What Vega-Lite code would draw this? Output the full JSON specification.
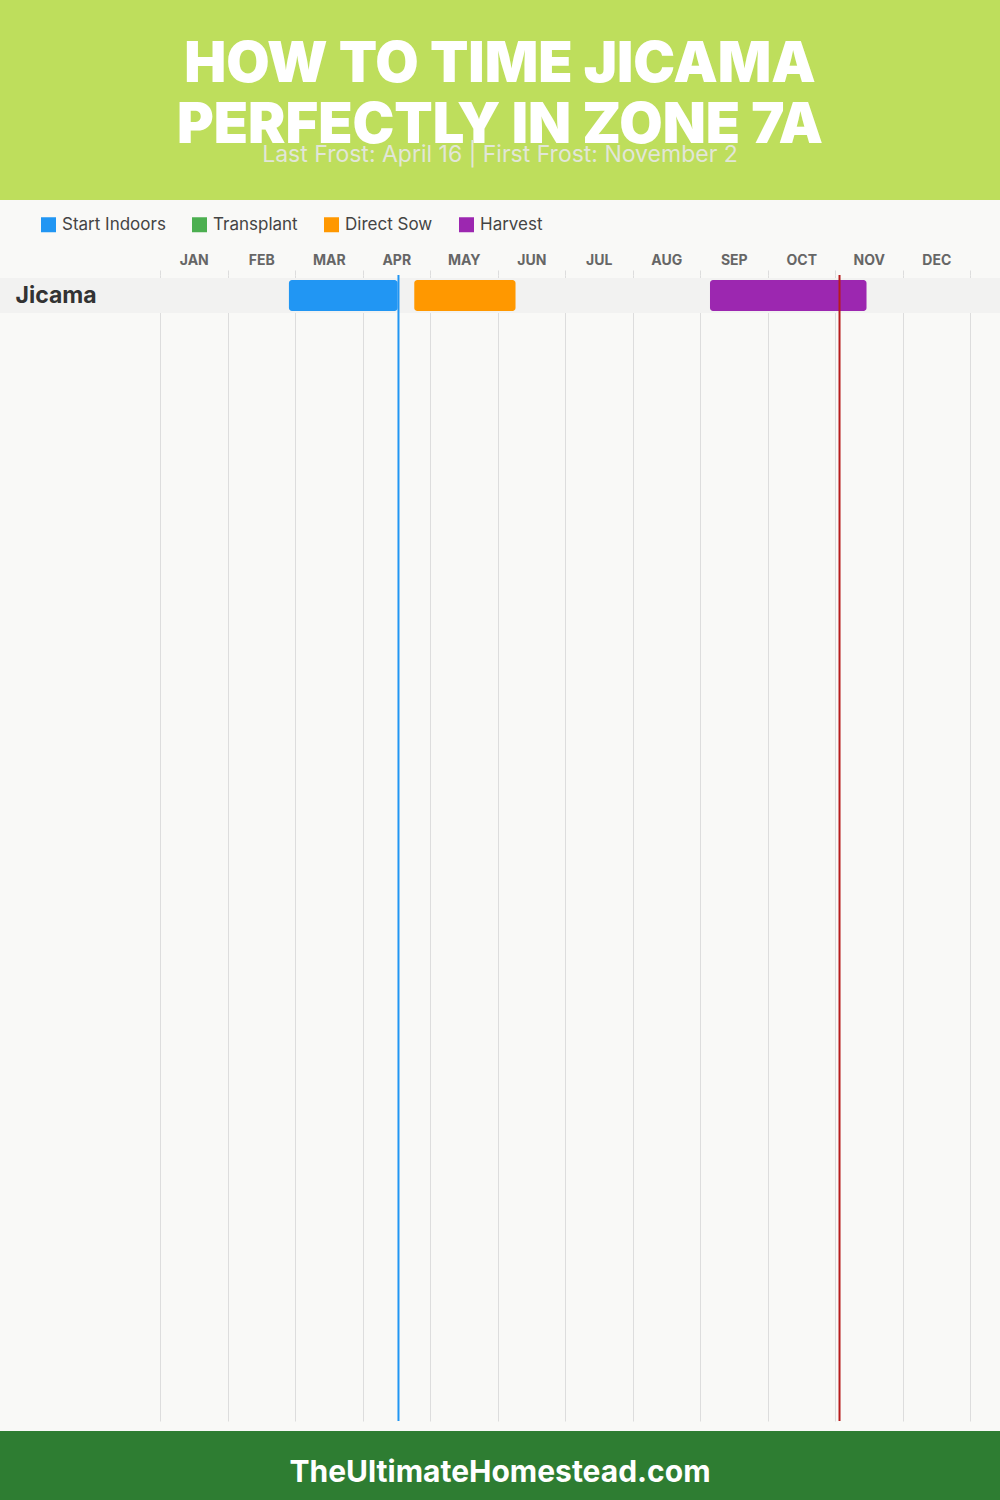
{
  "$schema": "https://vega.github.io/schema/vega-lite/v6.json",
  "background": "#F9F9F7",
  "padding": 0,
  "spacing": 9,
  "config": {"view": {"stroke": null}, "font": "Inter"},
  "resolve": {"scale": {"color": "independent", "stroke": "independent"}, "legend": {"color": "independent"}},
  "datasets": {
    "crops": [{"crop": "Jicama"}],
    "tasks": [
      {"crop": "Jicama", "task": "Start Indoors", "start": 1.91, "end": 3.52},
      {"crop": "Jicama", "task": "Direct Sow", "start": 3.767, "end": 5.267},
      {"crop": "Jicama", "task": "Harvest", "start": 8.148, "end": 10.467}
    ],
    "frost": [
      {"event": "Last Frost", "date": "April 16", "month": 3.533},
      {"event": "First Frost", "date": "November 2", "month": 10.067}
    ]
  },
  "vconcat": [
    {
      "width": 1000,
      "height": 200,
      "view": {"fill": "#BEDE5C", "stroke": null},
      "data": {"values": [{"line": "HOW TO TIME JICAMA"}, {"line": "PERFECTLY IN ZONE 7A"}]},
      "layer": [
        {
          "mark": {"type": "text", "font": "Inter", "fontWeight": 900, "fontSize": 56, "color": "#FFFFFF", "baseline": "alphabetic"},
          "encoding": {
            "text": {"field": "line"},
            "y": {"field": "line", "type": "nominal", "sort": null,
                  "scale": {"type": "point", "domain": ["HOW TO TIME JICAMA", "PERFECTLY IN ZONE 7A"], "range": [82, 143], "padding": 0},
                  "axis": null}
          }
        },
        {
          "data": {"values": [{"sub": "Last Frost: April 16 | First Frost: November 2"}]},
          "mark": {"type": "text", "font": "Inter", "fontWeight": 400, "fontSize": 23, "color": "#E2E6D8", "baseline": "alphabetic", "dy": 62},
          "encoding": {"text": {"field": "sub"}}
        }
      ]
    },
    {
      "width": 1000,
      "height": 1146,
      "view": {"stroke": null},
      "layer": [
        {
          "data": {"name": "crops"},
          "mark": {"type": "rect", "color": "#F2F2F1"},
          "encoding": {
            "y": {"field": "crop", "type": "nominal",
                  "scale": {"range": [3, 38], "paddingInner": 0, "paddingOuter": 0},
                  "axis": {"title": null, "domain": false, "ticks": false, "tickSize": 0, "grid": false,
                           "labelFont": "Inter", "labelFontWeight": 700, "labelFontSize": 23, "labelColor": "#333333",
                           "labelAlign": "left", "labelBaseline": "middle", "labelPadding": -15}}
          }
        },
        {
          "data": {"name": "tasks"},
          "mark": {"type": "bar", "height": 31, "cornerRadius": 3},
          "encoding": {
            "y": {"field": "crop", "type": "nominal",
                  "scale": {"range": [3, 38], "paddingInner": 0, "paddingOuter": 0},
                  "axis": null},
            "x": {"field": "start", "type": "quantitative",
                  "scale": {"domain": [0, 12], "range": [160, 970], "nice": false, "zero": false},
                  "axis": {"orient": "top", "values": [0.5,1.5,2.5,3.5,4.5,5.5,6.5,7.5,8.5,9.5,10.5,11.5],
                           "labelExpr": "['JAN','FEB','MAR','APR','MAY','JUN','JUL','AUG','SEP','OCT','NOV','DEC'][floor(datum.value)]",
                           "ticks": false, "tickSize": 0, "grid": false, "domain": false, "title": null,
                           "labelPadding": 11, "labelBaseline": "alphabetic", "labelFlush": false,
                           "labelFont": "Inter", "labelFontWeight": 700, "labelFontSize": 14, "labelColor": "#666666"}},
            "x2": {"field": "end"},
            "color": {"field": "task", "type": "nominal",
                      "scale": {"domain": ["Start Indoors", "Transplant", "Direct Sow", "Harvest"],
                                "range": ["#2196F3", "#4CAF50", "#FF9800", "#9C27B0"]},
                      "legend": {"orient": "none", "legendX": 40, "legendY": -59, "direction": "horizontal", "columns": 4,
                                 "title": null, "symbolType": "square", "symbolSize": 225, "symbolStrokeWidth": 0, "symbolOpacity": 1,
                                 "labelFont": "Inter", "labelFontSize": 17, "labelColor": "#444444", "labelOffset": 5,
                                 "columnPadding": 25, "padding": 0}}
          }
        },
        {
          "data": {"name": "frost"},
          "mark": {"type": "rule", "strokeWidth": 2},
          "encoding": {
            "x": {"field": "month", "type": "quantitative",
                  "axis": {"orient": "top", "values": [0,1,2,3,4,5,6,7,8,9,10,11,12], "labels": false,
                           "ticks": true, "tickSize": 5, "tickColor": "#DDDDDD", "tickWidth": 1,
                           "grid": true, "gridColor": "#DDDDDD", "gridWidth": 1, "domain": false, "title": null,
                           "minExtent": 66, "maxExtent": 66}},
            "stroke": {"field": "event", "type": "nominal",
                       "scale": {"domain": ["Last Frost", "First Frost"], "range": ["#2196F3", "#B71C1C"]},
                       "legend": null}
          }
        }
      ],
      "resolve": {"scale": {"y": "independent"}, "axis": {"x": "independent", "y": "independent"}}
    },
    {
      "width": 1000,
      "height": 70,
      "view": {"fill": "#2E7D32", "stroke": null},
      "data": {"values": [{"site": "TheUltimateHomestead.com"}]},
      "mark": {"type": "text", "font": "Inter", "fontWeight": 700, "fontSize": 30, "color": "#FFFFFF", "baseline": "alphabetic", "dy": 16},
      "encoding": {"text": {"field": "site"}}
    }
  ]
}
